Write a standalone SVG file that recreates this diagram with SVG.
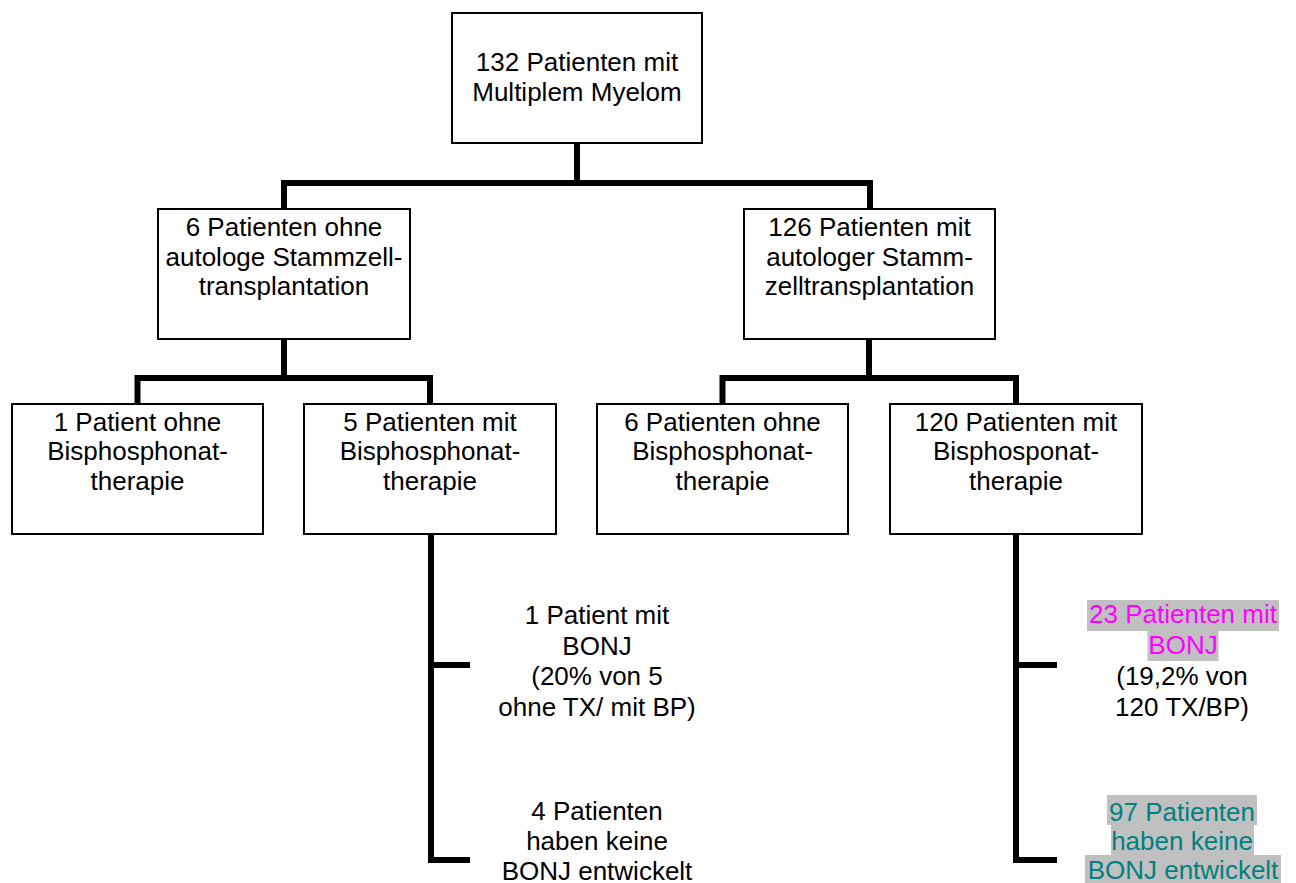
<svg xmlns="http://www.w3.org/2000/svg" width="1296" height="883" viewBox="0 0 1296 883">
<style>
.box{fill:#fff;stroke:#000;stroke-width:2}
.conn{fill:none;stroke:#000;stroke-width:6;stroke-linejoin:miter;stroke-linecap:butt}
text{font-family:"Liberation Sans",Arial,Helvetica,sans-serif;font-size:26px;text-anchor:middle;fill:#000}
.pink{fill:#FF00FF}
.teal{fill:#008080}
.hl{fill:#C0C0C0;stroke:none}
</style>
<rect width="1296" height="883" fill="#fff"/>
<g id="connectors">
<path class="conn" d="M577 143 V183"/>
<path class="conn" d="M284 209 V183 H870 V209"/>
<path class="conn" d="M284 339 V378"/>
<path class="conn" d="M137.5 404 V378 H430 V404"/>
<path class="conn" d="M869 339 V378"/>
<path class="conn" d="M722.5 404 V378 H1016 V404"/>
<path class="conn" d="M431 534 V860 H470"/>
<path class="conn" d="M431 665 H470"/>
<path class="conn" d="M1016 534 V860 H1057"/>
<path class="conn" d="M1016 665 H1057"/>
</g>
<g id="root">
<rect class="box" x="452" y="13" width="250" height="130"/>
<text x="577" y="71">132 Patienten mit</text>
<text x="577" y="100.5">Multiplem Myelom</text>
</g>
<g id="ohne-tx">
<rect class="box" x="158" y="209" width="252" height="130"/>
<text x="284" y="236">6 Patienten ohne</text>
<text x="284" y="265.5">autologe Stammzell-</text>
<text x="284" y="295">transplantation</text>
</g>
<g id="mit-tx">
<rect class="box" x="744" y="209" width="251" height="130"/>
<text x="869.5" y="236">126 Patienten mit</text>
<text x="869.5" y="265.5">autologer Stamm-</text>
<text x="869.5" y="295">zelltransplantation</text>
</g>
<g id="ohne-tx-ohne-bp">
<rect class="box" x="12" y="404" width="251" height="130"/>
<text x="137.5" y="430.5">1 Patient ohne</text>
<text x="137.5" y="460">Bisphosphonat-</text>
<text x="137.5" y="489.5">therapie</text>
</g>
<g id="ohne-tx-mit-bp">
<rect class="box" x="304" y="404" width="252" height="130"/>
<text x="430" y="430.5">5 Patienten mit</text>
<text x="430" y="460">Bisphosphonat-</text>
<text x="430" y="489.5">therapie</text>
</g>
<g id="mit-tx-ohne-bp">
<rect class="box" x="597" y="404" width="251" height="130"/>
<text x="722.5" y="430.5">6 Patienten ohne</text>
<text x="722.5" y="460">Bisphosphonat-</text>
<text x="722.5" y="489.5">therapie</text>
</g>
<g id="mit-tx-mit-bp">
<rect class="box" x="890" y="404" width="252" height="130"/>
<text x="1016" y="430.5">120 Patienten mit</text>
<text x="1016" y="460">Bisphosponat-</text>
<text x="1016" y="489.5">therapie</text>
</g>
<g id="left-bonj">
<text x="597" y="624">1 Patient mit</text>
<text x="597" y="654.5">BONJ</text>
<text x="597" y="685">(20% von 5</text>
<text x="597" y="715.5">ohne TX/ mit BP)</text>
</g>
<g id="left-keine-bonj">
<text x="597" y="820">4 Patienten</text>
<text x="597" y="850">haben keine</text>
<text x="597" y="879.5">BONJ entwickelt</text>
</g>
<g id="right-bonj">
<rect class="hl" x="1087" y="600" width="192" height="31"/>
<rect class="hl" x="1147.5" y="631" width="71" height="30"/>
<text class="pink" x="1183" y="623">23 Patienten mit</text>
<text class="pink" x="1183" y="654">BONJ</text>
<text x="1182" y="685">(19,2% von</text>
<text x="1182" y="715.5">120 TX/BP)</text>
</g>
<g id="right-keine-bonj">
<rect class="hl" x="1107" y="795" width="150" height="30"/>
<rect class="hl" x="1111" y="825" width="143" height="30"/>
<rect class="hl" x="1085" y="855" width="196" height="30"/>
<text class="teal" x="1182" y="820.5">97 Patienten</text>
<text class="teal" x="1182" y="850">haben keine</text>
<text class="teal" x="1183" y="879">BONJ entwickelt</text>
</g>
</svg>
